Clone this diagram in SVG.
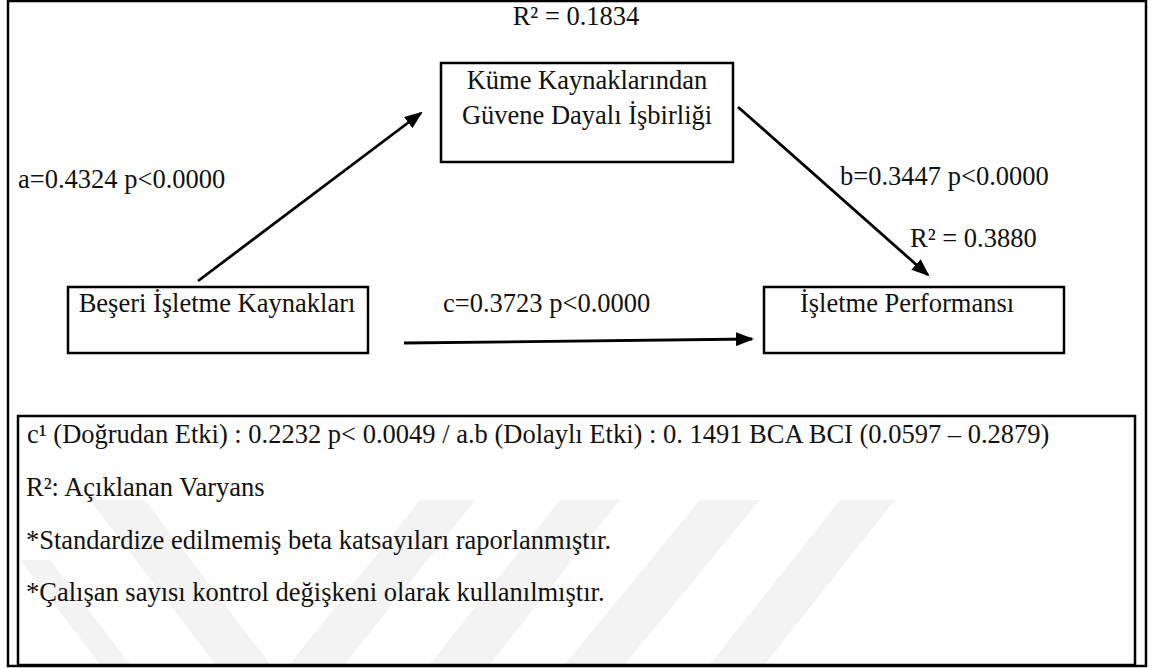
<svg xmlns="http://www.w3.org/2000/svg" width="1154" height="668" viewBox="0 0 1154 668">
<style>
text{font-family:"Liberation Serif","Times New Roman",serif;font-size:26.5px;fill:#111}
.box{fill:none;stroke:#000;stroke-width:2.5}
.frame{fill:none;stroke:#000;stroke-width:2.5}
.conn{stroke:#000;stroke-width:2.8;fill:none}
.wm{fill:#f3f3f3}
.mid{text-anchor:middle}
</style>
<defs>
<marker id="ah" viewBox="0 0 18 14" refX="16" refY="7" markerWidth="18" markerHeight="14" orient="auto" markerUnits="userSpaceOnUse">
<path d="M0,0 L18,7 L0,14 z" fill="#000"/>
</marker>
</defs>
<rect width="1154" height="668" fill="#fff"/>
<g id="watermark">
<polygon class="wm" points="20,560 50,560 130,664 100,664"/>
<polygon class="wm" points="90,500 145,500 270,664 215,664"/>
<polygon class="wm" points="420,500 475,500 345,664 290,664"/>
<polygon class="wm" points="560,500 620,500 490,664 430,664"/>
<polygon class="wm" points="700,500 760,500 625,664 565,664"/>
<polygon class="wm" points="840,500 895,500 765,664 710,664"/>
</g>
<rect class="frame" x="8" y="1" width="1138" height="665"/>
<g id="node-kume">
<rect class="box" x="441" y="63" width="292" height="99"/>
<text class="mid" x="587" y="89">Küme Kaynaklarından</text>
<text class="mid" x="587" y="124">Güvene Dayalı İşbirliği</text>
</g>
<g id="node-beseri">
<rect class="box" x="68" y="287" width="300" height="66"/>
<text class="mid" x="217" y="312">Beşeri İşletme Kaynakları</text>
</g>
<g id="node-performans">
<rect class="box" x="764" y="287" width="300" height="66"/>
<text class="mid" x="907" y="312">İşletme Performansı</text>
</g>
<g id="connectors">
<line class="conn" x1="198" y1="281" x2="421" y2="113" marker-end="url(#ah)"/>
<line class="conn" x1="738" y1="107" x2="928" y2="275" marker-end="url(#ah)"/>
<line class="conn" x1="404" y1="343" x2="752" y2="339" marker-end="url(#ah)"/>
</g>
<g id="labels">
<text class="mid" x="576" y="25">R² = 0.1834</text>
<text x="18" y="188">a=0.4324 p&lt;0.0000</text>
<text x="840" y="185">b=0.3447 p&lt;0.0000</text>
<text x="910" y="247">R² = 0.3880</text>
<text x="443" y="312">c=0.3723 p&lt;0.0000</text>
</g>
<g id="notes">
<rect class="box" x="18" y="416" width="1117" height="249"/>
<text x="27" y="443">c¹ (Doğrudan Etki) : 0.2232 p&lt; 0.0049 / a.b (Dolaylı Etki) : 0. 1491 BCA BCI (0.0597 – 0.2879)</text>
<text x="26" y="496">R²: Açıklanan Varyans</text>
<text x="26" y="549">*Standardize edilmemiş beta katsayıları raporlanmıştır.</text>
<text x="26" y="601">*Çalışan sayısı kontrol değişkeni olarak kullanılmıştır.</text>
</g>
</svg>
